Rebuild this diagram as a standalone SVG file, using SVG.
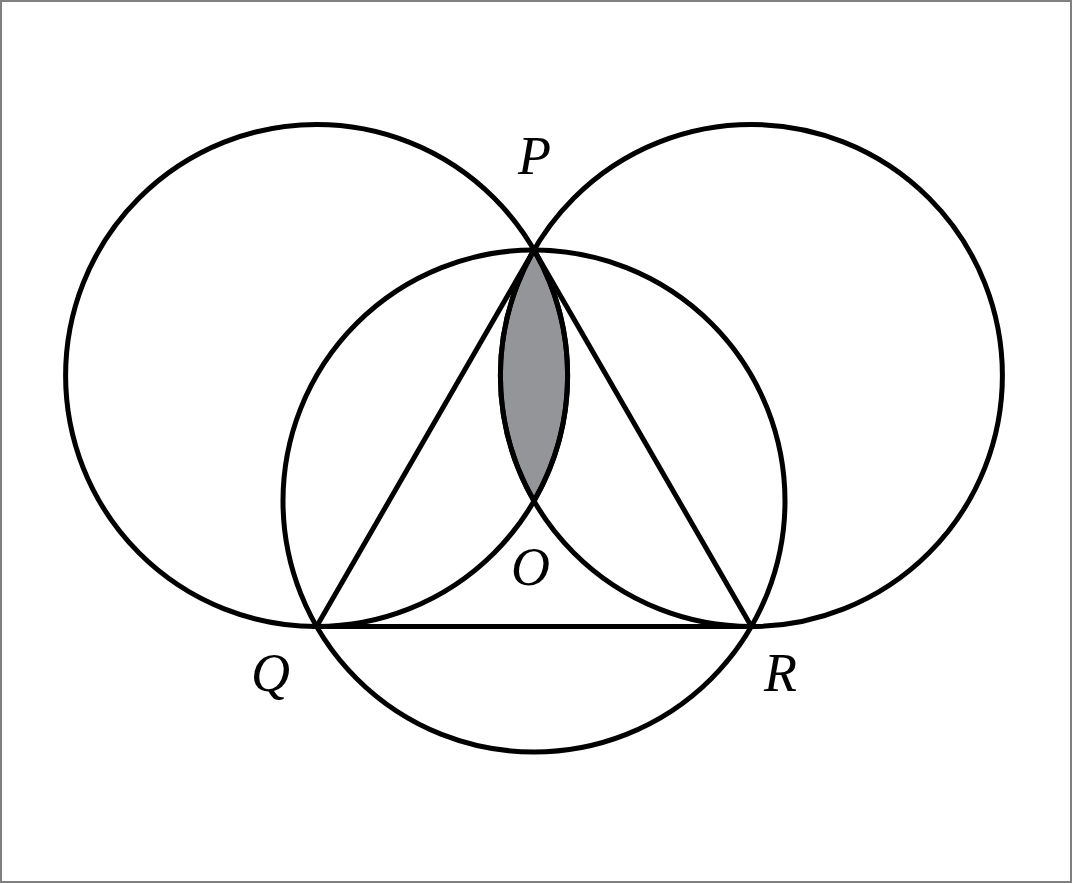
<svg xmlns="http://www.w3.org/2000/svg" width="1073" height="884" viewBox="0 0 1073 884">
<style>
.c{fill:none;stroke:#000;stroke-width:5}
.l{font-family:'Liberation Serif','Times New Roman','DejaVu Serif',serif;font-style:italic;font-size:54px;fill:#000}
</style>
<rect x="0" y="0" width="1073" height="884" fill="#fff"/>
<rect x="1" y="1" width="1070" height="881" fill="none" stroke="#808080" stroke-width="2"/>
<g id="lens"><path d="M534,250 A251,251 0 0 1 534,501 A251,251 0 0 1 534,250 Z" fill="#939598" stroke="#000" stroke-width="5"/></g>
<g id="circleLeft"><circle class="c" cx="316.6" cy="375.5" r="251"/></g>
<g id="circleRight"><circle class="c" cx="751.4" cy="375.5" r="251"/></g>
<g id="circleCenter"><circle class="c" cx="534" cy="501" r="251"/></g>
<g id="connectors"><polygon class="c" points="534,250 316.6,626.5 751.4,626.5" stroke-linejoin="miter"/></g>
<g id="P"><text class="l" x="518" y="174">P</text></g>
<g id="O"><text class="l" x="511" y="585">O</text></g>
<g id="Q"><text class="l" x="251" y="691">Q</text></g>
<g id="R"><text class="l" x="764" y="691">R</text></g>
</svg>
